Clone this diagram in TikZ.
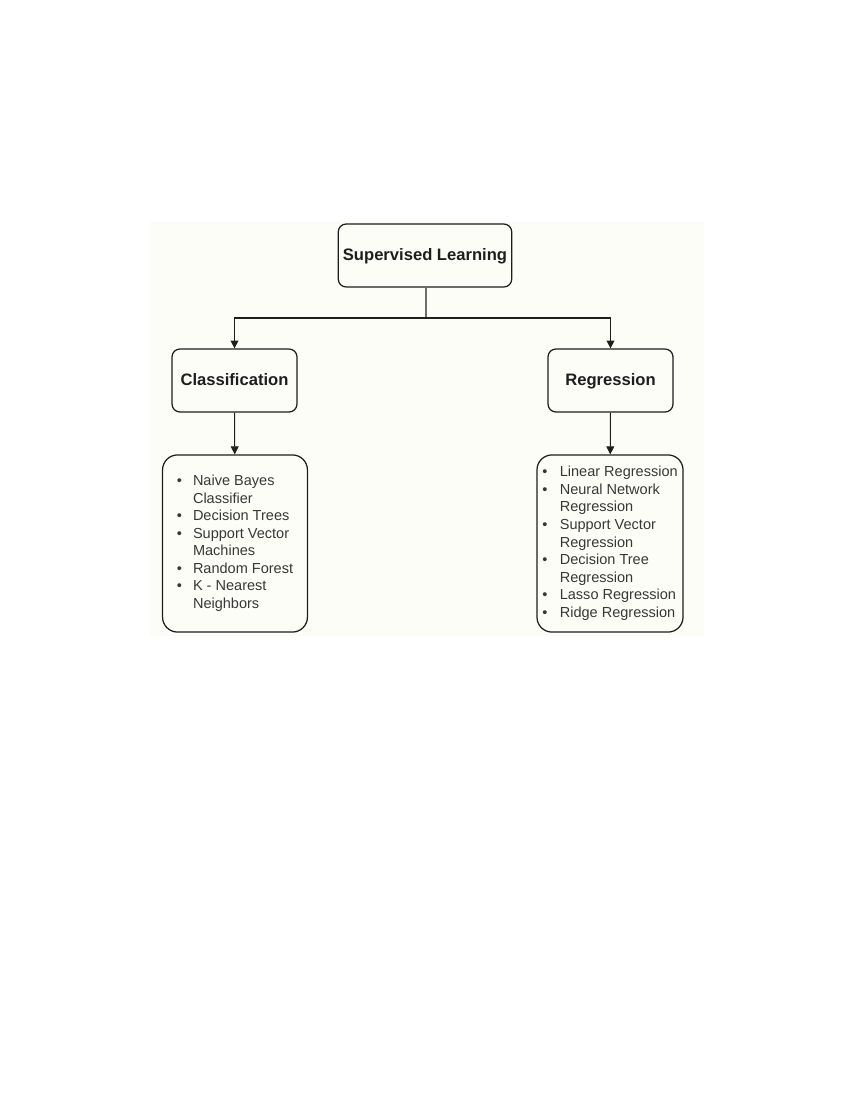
\documentclass[tikz,border=0pt]{standalone}
\usepackage{fontspec}
\setmainfont{Liberation Sans}
\usetikzlibrary{arrows.meta,positioning}
\definecolor{paper}{RGB}{253,253,248}
\definecolor{ink}{RGB}{30,30,30}
\definecolor{soft}{RGB}{55,55,55}
\definecolor{trunk}{RGB}{110,110,110}
\tikzset{
  >={Triangle[length=2mm,width=2mm]},
  title box/.style={draw=ink,line width=0.9pt,rounded corners=2mm,fill=paper,
    minimum width=#1,minimum height=16mm,align=center,
    text height=1.8ex,text depth=0.5ex,
    font=\fontsize{12}{14}\selectfont\bfseries,text=ink},
  title box/.default=31.75mm,
  list box/.style={draw=ink,line width=0.9pt,rounded corners=3.8mm,fill=paper,
    minimum width=#1,minimum height=45mm,inner sep=0pt,
    font=\fontsize{10.5}{12.7}\selectfont,text=soft},
  list box/.default=36.8mm,
  link/.style={->,draw=ink,line width=0.75pt},
  stem/.style={draw=trunk,line width=1.5pt},
}
\newcommand{\bl}{\textbullet}

\begin{document}
\begin{tikzpicture}[x=0.0254cm,y=-0.0254cm]
  \useasboundingbox (0,0) rectangle (850,1100);
  \fill[paper] (150,222) rectangle (704,636);

  % top level
  \node[title box=43.7mm] (sl) at (425,255.5) {Supervised Learning};
  \coordinate (fork) at (426,318);

  % second level
  \node[title box] (cls) at (234.5,380.5) {Classification};
  \node[title box] (reg) at (610.5,380.5) {Regression};

  % algorithm lists
  \node[list box] (clslist) at (235,543.5) {%
    \begin{tabular}{@{}l@{\hspace{8pt}}l@{}}
      \bl & Naive Bayes\\
          & Classifier\\
      \bl & Decision Trees\\
      \bl & Support Vector\\
          & Machines\\
      \bl & Random Forest\\
      \bl & K - Nearest\\
          & Neighbors
    \end{tabular}};
  \node[list box=37.1mm] (reglist) at (610,543.5) {%
    \begin{tabular}{@{}l@{\hspace{9pt}}l@{}}
      \bl & Linear Regression\\
      \bl & Neural Network\\
          & Regression\\
      \bl & Support Vector\\
          & Regression\\
      \bl & Decision Tree\\
          & Regression\\
      \bl & Lasso Regression\\
      \bl & Ridge Regression
    \end{tabular}};

  % connectors
  \draw[stem] (sl.south -| fork) -- (fork);
  \draw[link] (fork) -| (cls.north);
  \draw[link] (fork) -| (reg.north);
  \draw[link] (cls) -- (clslist);
  \draw[link] (reg) -- (reglist);
\end{tikzpicture}
\end{document}
